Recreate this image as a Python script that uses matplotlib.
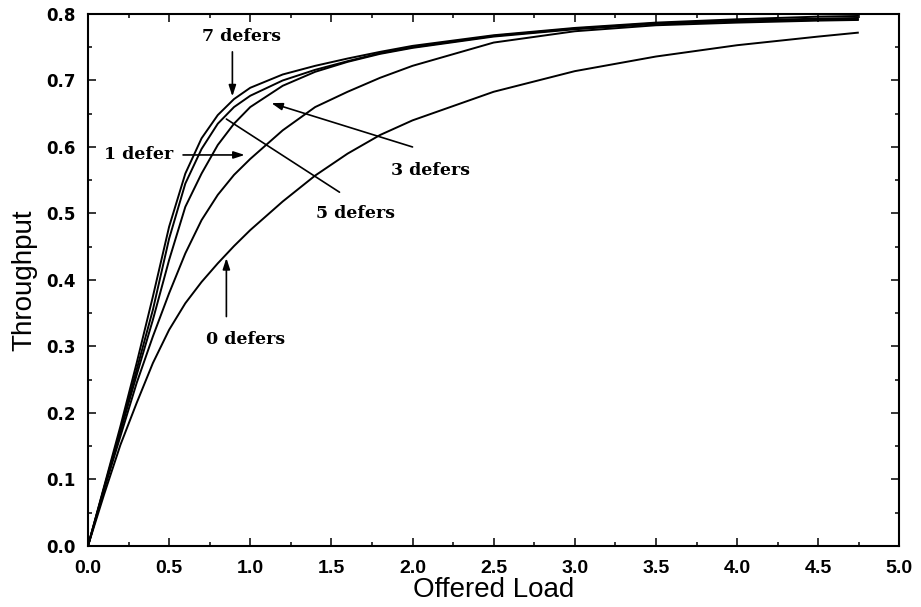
"""Throughput vs offered load for 0/1/3/5/7 defers (scanned figure redraw)."""
import matplotlib
matplotlib.use("Agg")
import matplotlib.pyplot as plt
from matplotlib.ticker import MultipleLocator, FormatStrFormatter

# offered load grid shared by every curve
LOAD = [0.0, 0.1, 0.2, 0.3, 0.4, 0.5, 0.6, 0.7, 0.8, 0.9, 1.0,
        1.2, 1.4, 1.6, 1.8, 2.0, 2.5, 3.0, 3.5, 4.0, 4.5, 4.75]

S_DEFER0 = [0.0, 0.078, 0.152, 0.215, 0.275, 0.325, 0.365, 0.397, 0.425, 0.451, 0.475,
            0.518, 0.557, 0.59, 0.618, 0.64, 0.683, 0.714, 0.736, 0.753, 0.766, 0.772]
S_DEFER1 = [0.0, 0.085, 0.165, 0.245, 0.315, 0.38, 0.44, 0.49, 0.528, 0.558, 0.582,
            0.625, 0.66, 0.683, 0.704, 0.722, 0.757, 0.774, 0.783, 0.787, 0.79, 0.791]
S_DEFER3 = [0.0, 0.087, 0.172, 0.257, 0.34, 0.43, 0.51, 0.56, 0.603, 0.635, 0.66,
            0.692, 0.713, 0.728, 0.74, 0.749, 0.766, 0.777, 0.785, 0.789, 0.791, 0.792]
S_DEFER5 = [0.0, 0.088, 0.175, 0.265, 0.355, 0.462, 0.545, 0.597, 0.635, 0.66, 0.677,
            0.70, 0.716, 0.729, 0.741, 0.75, 0.767, 0.778, 0.786, 0.79, 0.793, 0.794]
S_DEFER7 = [0.0, 0.09, 0.18, 0.275, 0.375, 0.48, 0.56, 0.613, 0.648, 0.672, 0.689,
            0.709, 0.722, 0.733, 0.743, 0.752, 0.768, 0.779, 0.787, 0.792, 0.796, 0.797]

CURVES = [S_DEFER0, S_DEFER1, S_DEFER3, S_DEFER5, S_DEFER7]

# label text, text position, arrow tail, arrow tip, arrow head?
LABELS = ["7 defers", "1 defer", "3 defers", "5 defers", "0 defers"]
TEXT_XY = [(0.944, 0.766), (0.314, 0.588), (2.11, 0.565), (1.65, 0.50), (0.97, 0.31)]
TAIL_XY = [(0.89, 0.743), (0.586, 0.588), (2.0, 0.600), (1.55, 0.532), (0.853, 0.345)]
TIP_XY = [(0.89, 0.676), (0.966, 0.588), (1.13, 0.666), (0.853, 0.642), (0.853, 0.433)]
HEADS = [True, True, True, False, True]

SERIF = ["DejaVu Serif"]
SANS = ["Liberation Sans", "DejaVu Sans"]

fig = plt.figure(figsize=(9.21, 6.07), dpi=100)
ax = fig.add_axes([0.0955, 0.1005, 0.881, 0.8765])

for s in CURVES:
    ax.plot(LOAD, s, color="black", lw=1.4, solid_capstyle="butt")

for lab, txy, a, b, head in zip(LABELS, TEXT_XY, TAIL_XY, TIP_XY, HEADS):
    ax.text(*txy, lab, ha="center", va="center", fontsize=12.5,
            fontweight="bold", family=SERIF)
    style = "-|>,head_width=0.18,head_length=0.55" if head else "-"
    ax.annotate("", xy=b, xytext=a,
                arrowprops=dict(arrowstyle=style, color="black", lw=1.2,
                                shrinkA=0, shrinkB=0, mutation_scale=12))

ax.set_xlim(0, 5)
ax.set_ylim(0, 0.8)
ax.xaxis.set_major_locator(MultipleLocator(0.5))
ax.xaxis.set_minor_locator(MultipleLocator(0.25))
ax.yaxis.set_major_locator(MultipleLocator(0.1))
ax.yaxis.set_minor_locator(MultipleLocator(0.05))
ax.xaxis.set_major_formatter(FormatStrFormatter("%.1f"))
ax.yaxis.set_major_formatter(FormatStrFormatter("%.1f"))
ax.tick_params(which="both", direction="in", top=True, right=True, width=1.1)
ax.tick_params(which="major", length=6)
ax.tick_params(which="minor", length=3)
ax.tick_params(axis="x", which="major", pad=10)
ax.tick_params(axis="y", which="major", pad=9)
for t in ax.get_xticklabels():
    t.set_fontfamily(SANS)
    t.set_fontweight("bold")
    t.set_fontsize(14)
for t in ax.get_yticklabels():
    t.set_fontfamily(["DejaVu Sans"])
    t.set_fontweight("bold")
    t.set_fontsize(12)
for sp in ax.spines.values():
    sp.set_linewidth(1.5)

ax.set_xlabel("Offered Load", fontsize=20, family=SANS, labelpad=0)
ax.set_ylabel("Throughput", fontsize=20, family=SANS, labelpad=6)

fig.savefig("out.png", dpi=100)
